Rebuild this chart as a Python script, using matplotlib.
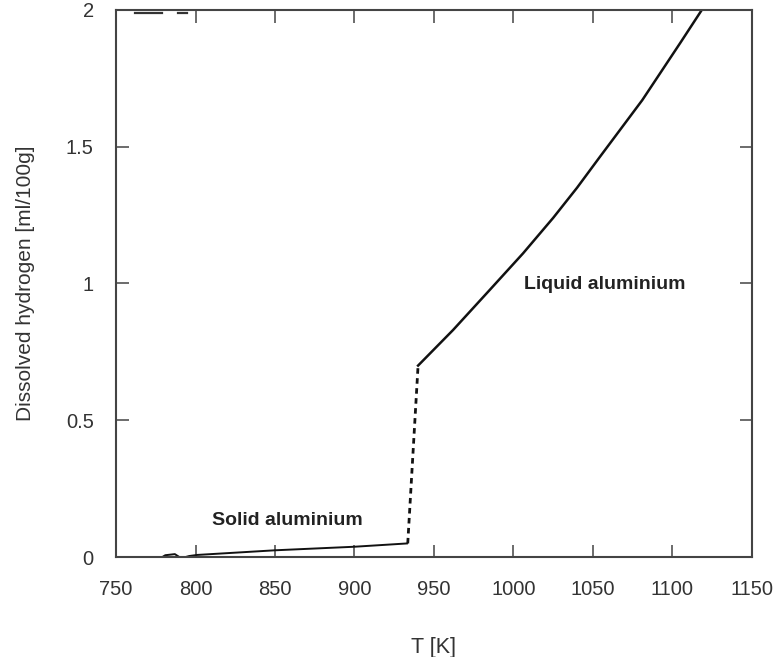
import matplotlib.pyplot as plt

plt.rcParams['font.family'] = ['Liberation Sans', 'DejaVu Sans']

# solid aluminium
solid_T = [750, 779, 781, 787, 791, 796, 801, 850, 900, 933]
solid_H = [0.0, 0.0, 0.007, 0.011, -0.004, 0.004, 0.008, 0.025, 0.038, 0.05]

# melting jump (dashed)
jump_T = [933.5, 940]
jump_H = [0.05, 0.70]

# liquid aluminium
liquid_T = [940, 962, 985, 1006, 1025, 1040, 1054, 1081, 1105, 1118.5]
liquid_H = [0.70, 0.83, 0.976, 1.11, 1.24, 1.35, 1.46, 1.67, 1.88, 2.0]

# stray segments along the top edge
top_T1 = [762, 779]
top_T2 = [789, 794.5]
top_H = [1.99, 1.99]

fig = plt.figure(figsize=(7.76, 6.57), dpi=100)
ax = fig.add_axes([0.1495, 0.152, 0.8195, 0.833])

ax.plot(solid_T, solid_H, color='#111111', linewidth=1.4)
ax.plot(jump_T, jump_H, color='#111111', linewidth=2.0, linestyle=(0, (2.0, 1.6)))
ax.plot(liquid_T, liquid_H, color='#111111', linewidth=1.8)
ax.plot(top_T1, top_H, color='#333333', linewidth=1.6)
ax.plot(top_T2, top_H, color='#333333', linewidth=1.6)

ax.set_xlim(750, 1150)
ax.set_ylim(0, 2)
ax.set_xticks([750, 800, 850, 900, 950, 1000, 1050, 1100, 1150])
ax.set_yticks([0, 0.5, 1, 1.5, 2])
ax.set_yticklabels(['0', '0.5', '1', '1.5', '2'])

ax.tick_params(direction='in', length=9, width=1.1, top=True, right=True,
               labelsize=14.5, labelcolor='#333333', color='#444444')
ax.tick_params(axis='x', pad=16.5)
ax.tick_params(axis='y', pad=16)
for s in ax.spines.values():
    s.set_color('#444444')
    s.set_linewidth(1.5)

ax.set_xlabel('T [K]', fontsize=15.5, color='#333333', labelpad=27)
ax.set_ylabel('Dissolved hydrogen [ml/100g]', fontsize=15, color='#333333', labelpad=22)

ax.text(857.5, 0.135, 'Solid aluminium', fontsize=14, fontweight='bold',
        color='#222222', ha='center', va='center')
ax.text(1057.5, 0.995, 'Liquid aluminium', fontsize=14, fontweight='bold',
        color='#222222', ha='center', va='center')

fig.savefig('out.png', dpi=100)
